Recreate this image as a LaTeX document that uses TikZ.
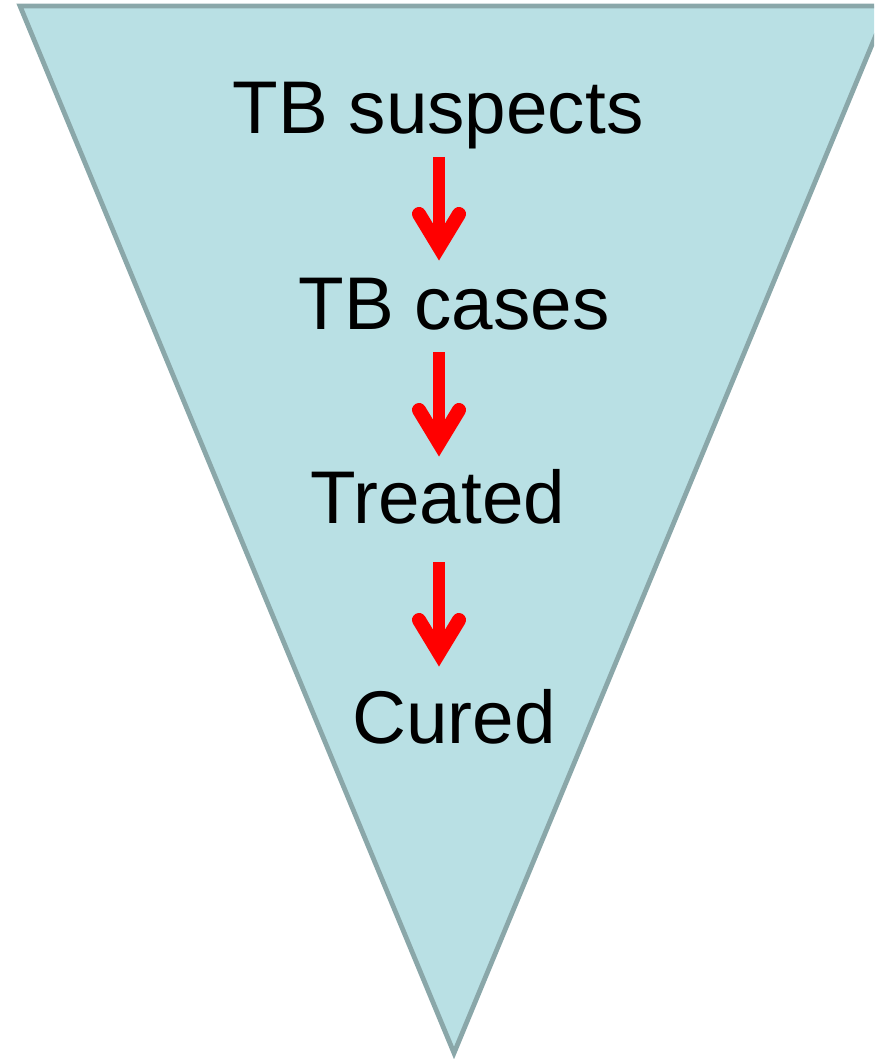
\documentclass[tikz,border=0pt]{standalone}
\usepackage{fontspec}
\setmainfont{Liberation Sans}

\definecolor{funnelfill}{RGB}{185,224,228}
\definecolor{funnelline}{RGB}{138,167,169}

\begin{document}
\begin{tikzpicture}[
    x=0.75pt, y=-0.75pt,
    font=\fontsize{56}{67}\selectfont,
    funnel/.style={draw=funnelline,fill=funnelfill,line width=3.6pt,line join=miter},
    stage/.style={anchor=base,inner sep=0pt},
    flow/.style={red,line width=9pt},
    flowhead/.style={red,line width=10.5pt,line cap=round,line join=miter},
  ]
  \useasboundingbox (0, 0) rectangle (874, 1059);
  \clip (0, 0) rectangle (874, 1059);

  % Funnel
  \draw[funnel] (20, 6) -- (888, 6) -- (454, 1053) -- cycle;

  % Stages
  \node[stage] (suspects) at (438, 134) {TB suspects};
  \node[stage] (cases) at (454, 329) {TB cases};
  \node[stage] (treated) at (438, 523) {Treated};
  \node[stage] (cured) at (454, 743) {Cured};

  % Arrows between stages (head is a thick chevron, its miter makes the point)
  \foreach \i/\from/\to in {1/157/247, 2/352/443, 3/562/653} {
    \coordinate (flow\i top) at (439, \from);
    \coordinate (flow\i tip) at (439, \to);
    \coordinate (flow\i left) at (419, \to-33);
    \coordinate (flow\i right) at (459, \to-33);
    \draw[flow] (flow\i top) -- (flow\i tip);
    \draw[flowhead] (flow\i left) -- (flow\i tip) -- (flow\i right);
  }
\end{tikzpicture}
\end{document}
